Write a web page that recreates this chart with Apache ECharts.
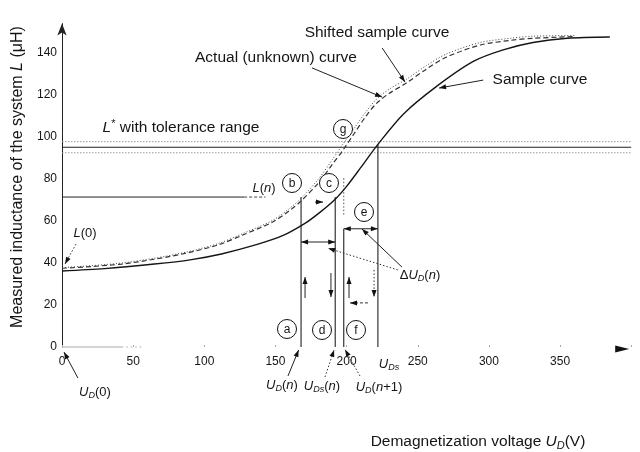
<!DOCTYPE html>
<html><head><meta charset="utf-8">
<script src="https://cdn.jsdelivr.net/npm/echarts@6/dist/echarts.min.js"></script>
<style>html,body{margin:0;padding:0;background:#fff}#c{width:640px;height:452px}</style>
</head><body><div id="c"></div>
<script>
// ---- data ----
const voltageTicks = [0, 50, 100, 150, 200, 250, 300, 350];
const inductanceTicks = [0, 20, 40, 60, 80, 100, 120, 140];

const sampleVoltage    = [0, 30, 65, 90, 112, 136, 155, 171, 181, 192, 200, 210, 222, 240, 263, 289, 310, 331, 355, 385];
const sampleInductance = [36.2, 37.3, 39.5, 41.5, 44.3, 48.6, 53.0, 59.0, 64.0, 70.4, 76.5, 85.5, 96.5, 111, 124, 136, 141.5, 145, 147, 147.6];

const shiftedVoltage    = [0, 20, 42, 65, 88, 110, 127, 148, 160, 168, 180, 190, 197.5, 205, 213, 221, 230, 242, 256, 270, 294, 315, 331, 360];
const shiftedInductance = [37.5, 38.3, 39.5, 41.8, 44.8, 48.7, 53.3, 59.5, 65, 69.5, 78, 87, 93.8, 101.3, 109.3, 116, 120.8, 125.7, 132.3, 138, 143.8, 146, 147, 147.8];

const actualVoltage    = [0, 20, 42, 65, 88, 110, 127, 148, 160, 168, 180, 190, 197, 205, 213, 221, 230, 242, 256, 270, 294, 315, 331, 360];
const actualInductance = [37.8, 38.7, 40, 42.3, 45.3, 49.3, 54, 60.3, 66, 70.8, 79.8, 89.2, 96.2, 103.8, 111.5, 118, 122.8, 127.5, 134, 139.5, 145, 147, 148, 148.3];

const lStar = 95.1, lStarLow = 92.5, lStarHigh = 97.8;   // L* with tolerance range
const lN = 71.4;                                           // L(n)
const uDn = 168, uDsn = 192, uDn1 = 198, uDs = 222;        // U_D(n), U_Ds(n), U_D(n+1), U_Ds
const deltaLevelA = 50, deltaLevelE = 56.3;                // levels of the ΔU_D(n) arrows
const lAtUDs = 96.5;                                       // sample curve at U_Ds
const fDottedFrom = 63, fDottedTo = 81;

// ---- chart ----
const FONT = '"Liberation Sans", Arial, Helvetica, sans-serif';
const INK = '#151515';
const chart = echarts.init(document.getElementById('c'), null, {renderer: 'canvas'});
function pairs(xs, ys) { return xs.map((x, i) => [x, ys[i]]); }
function seg(name, pts, type, width, color) {
  return {type: 'line', name, data: pts, symbol: 'none', silent: true, clip: false,
          lineStyle: {type, width, color}, z: 2};
}

chart.setOption({
  animation: false,
  backgroundColor: '#fff',
  grid: {left: 62, right: 8.8, top: 23.6, bottom: 105, containLabel: false},
  xAxis: {
    type: 'value', min: 0, max: 400, interval: 50,
    axisLine: {show: false},
    axisTick: {show: true, length: 2, inside: true, lineStyle: {color: '#aaa'}},
    axisLabel: {formatter: v => voltageTicks.includes(v) ? String(v) : '', color: INK, fontSize: 12, fontFamily: FONT, margin: 9},
    splitLine: {show: false}
  },
  yAxis: {
    type: 'value', min: 0, max: 154, interval: 20,
    axisLine: {show: true, lineStyle: {color: '#222', width: 1}, symbol: ['none', 'arrow'], symbolSize: [7, 12]},
    axisTick: {show: false},
    axisLabel: {formatter: v => inductanceTicks.includes(v) ? String(v) : '', color: INK, fontSize: 12, fontFamily: FONT, margin: 5},
    splitLine: {show: false}
  },
  series: [
    {type: 'line', name: 'Sample curve', data: pairs(sampleVoltage, sampleInductance), smooth: 0.3,
     symbol: 'none', lineStyle: {color: INK, width: 1.4}, z: 3},
    {type: 'line', name: 'Shifted sample curve', data: pairs(shiftedVoltage, shiftedInductance), smooth: 0.3,
     symbol: 'none', lineStyle: {color: '#333', width: 1.2, type: [5, 3]}, z: 3},
    {type: 'line', name: 'Actual (unknown) curve', data: pairs(actualVoltage, actualInductance), smooth: 0.3,
     symbol: 'none', lineStyle: {color: '#444', width: 1, type: [1, 2]}, z: 3},
    seg('L* high', [[0, lStarHigh], [400, lStarHigh]], [1.5, 1.5], 1, '#9a9a9a'),
    seg('L*', [[0, lStar], [400, lStar]], 'solid', 1.1, '#222'),
    seg('L* low', [[0, lStarLow], [400, lStarLow]], [1.5, 1.5], 1, '#9a9a9a'),
    seg('L(n)', [[0, lN], [128, lN]], 'solid', 1, '#222'),
    seg('L(n) tail', [[128, lN], [143, lN]], [3, 2], 1, '#444'),
    seg('a', [[uDn, 0], [uDn, lN]], 'solid', 1.1, '#222'),
    seg('d', [[uDsn, 0], [uDsn, lN]], 'solid', 1.1, '#222'),
    seg('f', [[uDn1, 0], [uDn1, deltaLevelE]], 'solid', 1.1, '#222'),
    seg('f dotted', [[uDn1, fDottedFrom], [uDn1, fDottedTo]], [1.5, 2], 1, '#555'),
    seg('UDs', [[uDs, 0], [uDs, lAtUDs]], 'solid', 1.1, '#222'),
    seg('x axis stub', [[0, 0], [42, 0]], 'solid', 1.2, '#aaa'),
    seg('x axis dots', [[42, 0], [56, 0]], [1.5, 3], 1, '#aaa')
  ]
});

// ---- annotations (arrows / labels) ----
function px(u, l) { return chart.convertToPixel({gridIndex: 0}, [u, l]); }
const G = [];
function line(p1, p2, dash, w, col) {
  G.push({type: 'line', silent: true, z: 10, shape: {x1: p1[0], y1: p1[1], x2: p2[0], y2: p2[1]},
          style: {stroke: col || '#222', lineWidth: w || 1, lineDash: dash || null}});
}
function head(tip, from, len, wid, col) {
  const dx = tip[0] - from[0], dy = tip[1] - from[1];
  const d = Math.hypot(dx, dy) || 1, ux = dx / d, uy = dy / d;
  const bx = tip[0] - ux * len, by = tip[1] - uy * len;
  G.push({type: 'polygon', silent: true, z: 11, shape: {points: [[tip[0], tip[1]], [bx - uy * wid / 2, by + ux * wid / 2], [bx + uy * wid / 2, by - ux * wid / 2]]},
          style: {fill: col || '#111'}});
}
function arrow(from, to, dash, both, len, wid) {
  const a = px(from[0], from[1]), b = px(to[0], to[1]);
  line(a, b, dash, 1, dash ? '#333' : '#222');
  head(b, a, len || 7, wid || 5);
  if (both) head(a, b, len || 7, wid || 5);
}
const DOT = [1.5, 2], DASH = [3, 2];
arrow([9.8, 49], [2.1, 39.5], DOT);
arrow([11.2, -14.8], [1.4, -2.4], null);
arrow([158.8, -13.8], [166.3, -1.4], null);
arrow([184.8, -14.3], [191.2, -1.4], DOT);
arrow([209.4, -13.8], [198.9, -1.2], DOT);
arrow([175.7, 132.9], [224.9, 119], null);
arrow([225, 142.4], [241, 126.2], null);
arrow([296, 127.1], [265, 123.3], null);
arrow([239, 38], [210.8, 56.2], null);
arrow([236, 36.7], [187, 47], DOT);
arrow([uDn, deltaLevelA], [uDsn, deltaLevelA], null, true);
arrow([uDn1, deltaLevelE], [uDs, deltaLevelE], null, true);
arrow([177.8, 69], [183.4, 69], null);
arrow([170.8, 23.3], [170.8, 33.3], null);
arrow([189, 35.2], [189, 23.8], null);
arrow([201.7, 23.3], [201.7, 33.3], null);
arrow([215, 21], [202.4, 21], DASH);
arrow([219.3, 36.7], [219.3, 23.8], DOT);
// x-axis arrowhead
(function () { const t = px(398.6, -1), f = px(388.8, -1); head(t, f, 14, 7); })();

// circled letters
[['a', 287, 329], ['b', 292, 183], ['c', 329, 183], ['d', 322, 330], ['e', 364, 212], ['f', 356, 330], ['g', 343, 129]]
  .forEach(([t, x, y]) => {
    G.push({type: 'circle', silent: true, z: 12, shape: {cx: x, cy: y, r: 9.5}, style: {fill: '#fff', stroke: '#111', lineWidth: 1}});
    G.push({type: 'text', silent: true, z: 13, x: x, y: y + 0.5, style: {text: t, align: 'center', verticalAlign: 'middle', font: '12px ' + FONT, fill: INK}});
  });

const rich = (fs) => ({
  i: {fontStyle: 'italic', fontSize: fs, fontFamily: FONT, fill: INK, lineHeight: fs + 3},
  n: {fontSize: fs, fontFamily: FONT, fill: INK, lineHeight: fs + 3},
  sub: {fontStyle: 'italic', fontSize: Math.round(fs * 0.7), fontFamily: FONT, fill: INK, verticalAlign: 'bottom', lineHeight: Math.round(fs * 0.7)},
  sup: {fontSize: Math.round(fs * 0.7), fontFamily: FONT, fill: INK, verticalAlign: 'top', lineHeight: Math.round(fs * 0.7)}
});
function label(text, x, y, fs, rot) {
  G.push({type: 'text', silent: true, z: 14, x, y, rotation: rot || 0,
          style: {text, align: 'center', verticalAlign: 'middle', font: fs + 'px ' + FONT, fill: INK, rich: rich(fs)}});
}
label('{n|Shifted sample curve}', 377, 33, 15.5);
label('{n|Actual (unknown) curve}', 276, 58, 15.5);
label('{n|Sample curve}', 540, 80, 15.5);
label('{i|L}{sup|*}{n| with tolerance range}', 181, 128, 15.5);
label('{i|L}{n|(}{i|n}{n|)}', 264, 188, 13);
label('{i|L}{n|(0)}', 85, 233, 13);
label('{i|U}{sub|D}{n|(0)}', 95, 392, 13);
label('{i|U}{sub|D}{n|(}{i|n}{n|)}', 282, 385, 13);
label('{i|U}{sub|Ds}{n|(}{i|n}{n|)}', 322, 386, 13);
label('{i|U}{sub|D}{n|(}{i|n}{n|+1)}', 379, 387, 13);
label('{i|U}{sub|Ds}', 389, 364, 13);
label('{n|Δ}{i|U}{sub|D}{n|(}{i|n}{n|)}', 420, 275, 13);
label('{n|Demagnetization voltage }{i|U}{sub|D}{n|(V)}', 478, 442, 15.5);
label('{n|Measured inductance of the system }{i|L}{n| (μH)}', 18, 177, 16, Math.PI / 2);

chart.setOption({graphic: {elements: G}});
</script>
</body></html>
